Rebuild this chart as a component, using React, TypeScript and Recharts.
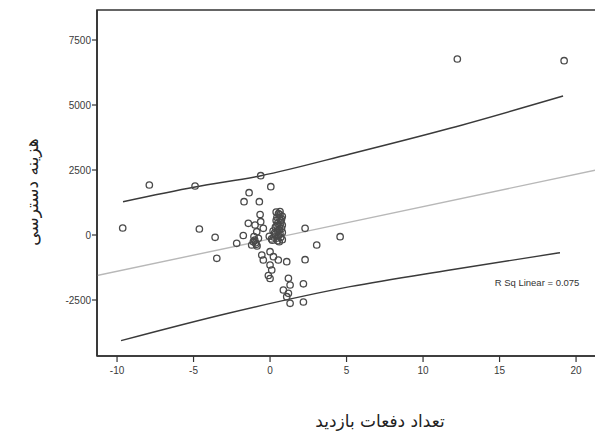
import React from 'react';
import { ComposedChart, Scatter, Line, XAxis, YAxis, ReferenceDot, ReferenceArea } from 'recharts';

// Scatter observations (x = visits count difference, y = access cost)
const pointX = [
  -9.63, -7.89, -4.9, -4.62, -3.59, -3.48, 12.24, 19.22, 4.58, 3.05, 2.29, 2.29, 2.18, 2.18, 1.09,
  -2.18, -1.75, -1.7, -1.37, -0.7, -0.61, 0.05, -0.65, -1.42, -0.98, -0.61, -0.44, -0.87, -1.09, -1.2,
  -0.76, -0.54, 0, 0.22, 0.54, -0.44, 0, 0.11, -0.11, 0, 1.2, 1.31, 0.87, 1.2, 1.09, 1.31,
  0.4, 0.65, 0.8, 0.45, 0.7, 0.5, 0.8, 0.35, 0.6, 0.8, 0.3, 0.55, 0.1, 0.5, 0.8, 0.2, 0.65, 0.4, -0.05,
  -0.95, -0.85,
  0.55, 0.75, 0.6, 0.7, 0.45, 0.6, 0.75, 0.5, 0.35, 0.65, 0.25, 0.45, 0.7, 0.6, 0.15,
  -1.0, -0.9, -1.05,
];
const pointY = [
  270, 1923, 1885, 231, -88, -896, 6769, 6704, -65, -385, 258, -950, -1877, -2577, -1027,
  -319, -19, 1281, 1627, 1281, 2281, 1858, 788, 450, 385, 512, 258, 127, -258, -385,
  -127, -769, -642, -835, -962, -962, -1154, -1346, -1558, -1673, -1665, -1923, -2115, -2242, -2373, -2627,
  880, 900, 720, 680, 560, 450, 380, 300, 200, 100, 80, -20, -150, -220, -180, 150, 780, 560, -50,
  -300, -420,
  820, 620, 640, 470, 360, 330, 250, 160, 30, 40, -80, -120, -90, -260, -200,
  -200, -360, -60,
];

// Upper and lower 95% prediction bands
const upperX = [-9.61, -4.9, -0.59, 5.23, 11.76, 19.15];
const upperY = [1281, 1846, 2281, 3115, 4104, 5346];
const lowerX = [-9.74, -2.73, 5.23, 11.76, 18.95];
const lowerY = [-4065, -3011, -1988, -1346, -681];

// Linear fit line
const fitX = [-11.31, 21.63];
const fitY = [-1560, 2540];

const xTicks = [-10, -5, 0, 5, 10, 15, 20];
const yTicks = [-2500, 0, 2500, 5000, 7500];
const xDomain: [number, number] = [-11.31, 21.63];
const yDomain: [number, number] = [-4654, 8654];

const rsqText = 'R Sq Linear = 0.075';
const rsqX = 17.45;
const rsqY = -1846;
const xTitle = 'تعداد دفعات بازدید';
const yTitle = 'هزینه دسترسی';

const points = pointX.map((x, i) => ({ x, y: pointY[i] }));
const upper = upperX.map((x, i) => ({ x, y: upperY[i] }));
const lower = lowerX.map((x, i) => ({ x, y: lowerY[i] }));
const fit = fitX.map((x, i) => ({ x, y: fitY[i] }));

const frame = '#333';
const tickStyle = { fontFamily: 'Liberation Sans, Arial, sans-serif', fontSize: 10, fill: '#3a3a3a' };

const Ring = (props: any) => {
  const { cx, cy } = props;
  if (cx == null || cy == null) return null;
  return <circle cx={cx} cy={cy} r={3.2} fill="none" stroke="#4a4a4a" strokeWidth={1.3} />;
};

export default function App() {
  return (
    <div style={{ width: 595, height: 428 }}>
      <ComposedChart
        width={595}
        height={428}
        margin={{ top: 2, right: 2, left: 0, bottom: 0 }}
      >
        <XAxis
          dataKey="x"
          type="number"
          domain={xDomain}
          allowDataOverflow
          ticks={xTicks}
          height={80}
          axisLine={{ stroke: frame, strokeWidth: 1.6 }}
          tickLine={{ stroke: frame, strokeWidth: 1.2 }}
          tickSize={6}
          tickMargin={5}
          tick={tickStyle}
          label={{
            value: xTitle,
            position: 'insideBottom',
            offset: 9,
            dx: 31,
            style: { fontFamily: 'DejaVu Sans, sans-serif', fontSize: 17, fill: '#222' },
          }}
        />
        <YAxis
          type="number"
          domain={yDomain}
          allowDataOverflow
          ticks={yTicks}
          width={89}
          axisLine={{ stroke: frame, strokeWidth: 1.6 }}
          tickLine={{ stroke: frame, strokeWidth: 1.2 }}
          tickSize={5}
          tickMargin={1}
          tick={tickStyle}
          label={{
            content: (p: any) => {
              const vb = p.viewBox || { x: 0, y: 0, width: 89, height: 346 };
              const x = vb.x + 24;
              const y = vb.y + vb.height / 2 + 9;
              return (
                <text
                  x={x}
                  y={y}
                  transform={`rotate(-90, ${x}, ${y})`}
                  textAnchor="middle"
                  dominantBaseline="central"
                  style={{ fontFamily: 'DejaVu Sans, sans-serif', fontSize: 17, fill: '#222' }}
                >
                  {yTitle}
                </text>
              );
            },
          }}
        />
        <ReferenceArea
          x1={xDomain[0]}
          x2={xDomain[1]}
          y1={yDomain[0]}
          y2={yDomain[1]}
          fill="none"
          fillOpacity={0}
          stroke={frame}
          strokeWidth={1.6}
          ifOverflow="visible"
        />
        <Line
          data={fit}
          dataKey="y"
          type="linear"
          stroke="#b8b8b8"
          strokeWidth={1.4}
          dot={false}
          activeDot={false}
          isAnimationActive={false}
        />
        <Line
          data={upper}
          dataKey="y"
          type="monotone"
          stroke="#3a3a3a"
          strokeWidth={1.4}
          dot={false}
          activeDot={false}
          isAnimationActive={false}
        />
        <Line
          data={lower}
          dataKey="y"
          type="monotone"
          stroke="#3a3a3a"
          strokeWidth={1.4}
          dot={false}
          activeDot={false}
          isAnimationActive={false}
        />
        <Scatter data={points} dataKey="y" shape={<Ring />} isAnimationActive={false} />
        <ReferenceDot
          x={rsqX}
          y={rsqY}
          r={0}
          stroke="none"
          fill="none"
          label={{
            value: rsqText,
            position: 'center',
            style: { fontFamily: 'Liberation Sans, Arial, sans-serif', fontSize: 9.5, fill: '#333' },
          }}
        />
      </ComposedChart>
    </div>
  );
}
